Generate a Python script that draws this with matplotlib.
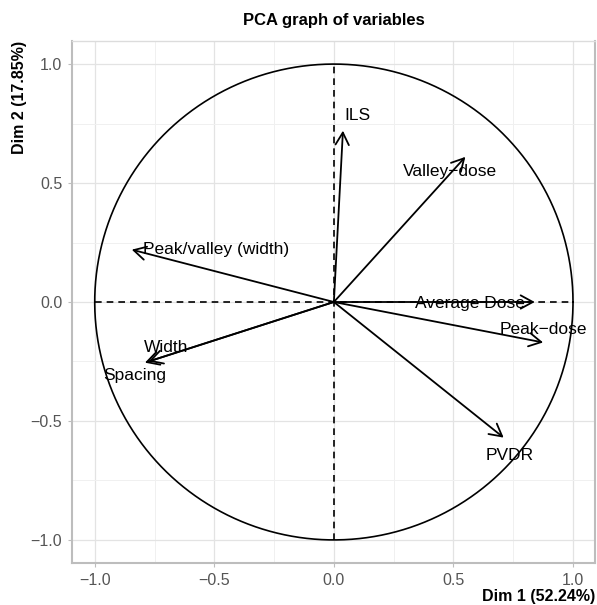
import matplotlib.pyplot as plt
import numpy as np

plt.rcParams['font.family'] = ['Liberation Sans', 'DejaVu Sans']

# variable coordinates on Dim 1 / Dim 2
variables = ["ILS", "Valley-dose", "Average Dose", "Peak-dose", "PVDR",
             "Peak/valley (width)", "Width", "Spacing"]
dim1 = [0.038, 0.55, 0.84, 0.875, 0.71, -0.845, -0.775, -0.79]
dim2 = [0.72, 0.61, 0.0, -0.17, -0.57, 0.22, -0.25, -0.255]

# where each label sits (data units)
label_x = [0.10, 0.485, 0.57, 0.875, 0.735, -0.494, -0.70, -0.833]
label_y = [0.785, 0.55, -0.005, -0.115, -0.645, 0.22, -0.19, -0.307]

ticks = [-1.0, -0.5, 0.0, 0.5, 1.0]
tick_labels = ["\u22121.0", "\u22120.5", "0.0", "0.5", "1.0"]

fig = plt.figure(figsize=(5.97, 6.05), dpi=100)
ax = fig.add_axes([72/597, 1 - 563/605, (595 - 72)/597, (563 - 41)/605])

ax.set_xlim(-1.095, 1.092)
ax.set_ylim(-1.097, 1.097)

# grid
ax.set_xticks(ticks)
ax.set_yticks(ticks)
ax.set_xticks([-0.75, -0.25, 0.25, 0.75], minor=True)
ax.set_yticks([-0.75, -0.25, 0.25, 0.75], minor=True)
ax.grid(which='major', color='#e3e3e3', linewidth=0.9)
ax.grid(which='minor', color='#f0f0f0', linewidth=0.7)
ax.set_axisbelow(True)
ax.tick_params(which='minor', length=0)
ax.tick_params(which='major', length=3, color='#bdbdbd', labelsize=11.5,
               labelcolor='#555555', pad=4)
ax.set_xticklabels(tick_labels)
ax.set_yticklabels(tick_labels)

for side in ['left', 'bottom', 'right']:
    ax.spines[side].set_color('#bdbdbd')
    ax.spines[side].set_linewidth(1.5)
ax.spines['top'].set_color('#dcdcdc')
ax.spines['top'].set_linewidth(1.0)

# correlation circle and axes through origin
t = np.linspace(0, 2*np.pi, 400)
ax.plot(np.cos(t), np.sin(t), color='black', linewidth=1.2)
ax.plot([-1, 1], [0, 0], color='black', linestyle=(0, (4, 3)), linewidth=1.2)
ax.plot([0, 0], [-1, 1], color='black', linestyle=(0, (4, 3)), linewidth=1.2)

# arrows
for x, y in zip(dim1, dim2):
    ax.annotate("", xy=(x, y), xytext=(0, 0),
                arrowprops=dict(arrowstyle='->, head_width=0.3, head_length=0.55',
                                color='black', lw=1.3,
                                mutation_scale=16, shrinkA=0, shrinkB=0))

for name, lx, ly in zip(variables, label_x, label_y):
    ax.text(lx, ly, name.replace("-", "\u2212"), ha='center', va='center',
            fontsize=12.5, color='black')

fig.text(334/597, 1 - 20/605, "PCA graph of variables", ha='center',
         va='center', fontsize=12, fontweight='bold')
fig.text(595/597, 1 - 597/605, "Dim 1 (52.24%)", ha='right', va='center',
         fontsize=11.5, fontweight='bold')
fig.text(20/597, 1 - 41/605, "Dim 2 (17.85%)", ha='center', va='top',
         rotation=90, fontsize=11.5, fontweight='bold')

fig.savefig("out.png", dpi=100)
